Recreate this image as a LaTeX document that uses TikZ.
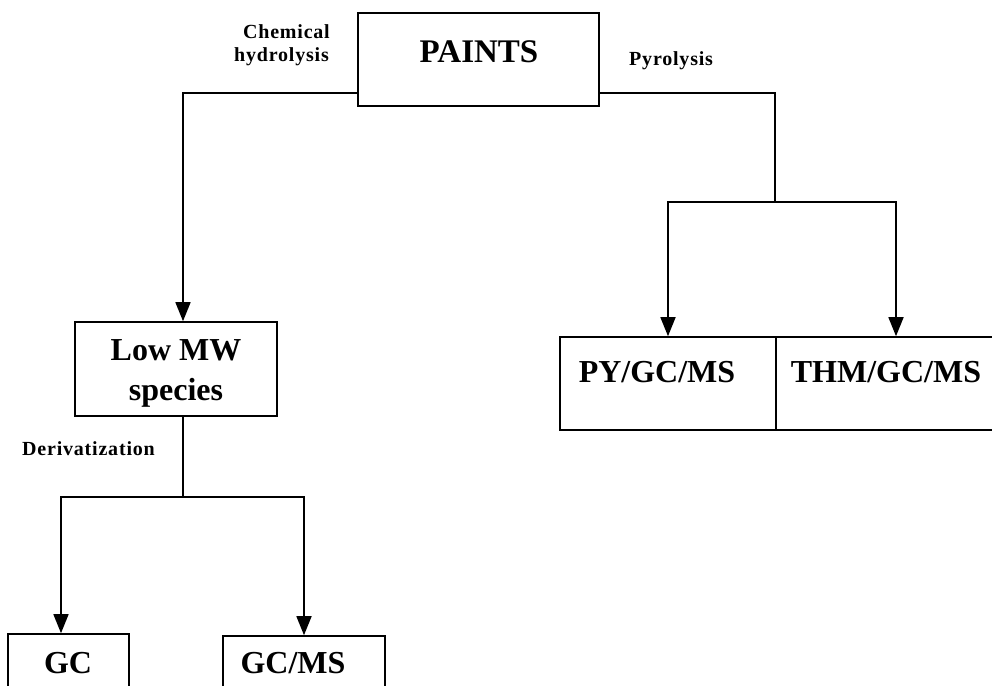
\documentclass[tikz,border=0pt]{standalone}
\usepackage{fontspec}
\setmainfont{Liberation Serif}
\newfontfamily\labfont[LetterSpace=4]{Liberation Serif}
\usetikzlibrary{arrows.meta}
\tikzset{
  boxnode/.style={draw, line width=1.6pt, rectangle, inner sep=0pt},
  bigtext/.style={font=\bfseries\fontsize{32}{40}\selectfont, anchor=base, inner sep=0pt},
  labtext/.style={font=\labfont\bfseries\fontsize{20}{22}\selectfont, inner sep=0pt},
  conn/.style={line width=1.6pt, line join=miter},
  arr/.style={conn, -{Triangle[length=19pt,width=15pt]}},
  arrboth/.style={conn, {Triangle[length=19pt,width=15pt]}-{Triangle[length=19pt,width=15pt]}}
}
\begin{document}
\begin{tikzpicture}[x=1pt, y=-1pt]
\useasboundingbox (0,0) rectangle (992,685);
\clip (0,0) rectangle (992,685);

% boxes
\node[boxnode, minimum width=241pt, minimum height=93pt] (paints) at (478.5,59.5) {};
\node[boxnode, minimum width=202pt, minimum height=94pt] (lowmw) at (176,369) {};
\node[boxnode, minimum width=216pt, minimum height=93pt] (py) at (668,383.5) {};
\node[boxnode, minimum width=234pt, minimum height=93pt] (thm) at (893,383.5) {};
\node[boxnode, minimum width=121pt, minimum height=90pt] (gc) at (68.5,679) {};
\node[boxnode, minimum width=162pt, minimum height=88pt] (gcms) at (304,680) {};

% box texts
\node[bigtext, font=\bfseries\fontsize{33}{40}\selectfont] (tpaints) at (479,63) {PAINTS};
\node[bigtext] (tlow1) at (176,360) {Low MW};
\node[bigtext] (tlow2) at (176,400) {species};
\node[bigtext] (tpy) at (657,382) {PY/GC/MS};
\node[bigtext] (tthm) at (886,382) {THM/GC/MS};
\node[bigtext] (tgc) at (68,673) {GC};
\node[bigtext] (tgcms) at (293,673) {GC/MS};

% labels
\node[labtext, anchor=base east] (lchem) at (330,39) {Chemical};
\node[labtext, anchor=base east] (lhyd) at (329,61) {hydrolysis};
\node[labtext, anchor=base west] (lpyr) at (629,65) {Pyrolysis};
\node[labtext, anchor=base west] (lder) at (22,455) {Derivatization};

% junction coordinates
\coordinate (jL) at (183,93);
\coordinate (jR) at (775,93);
\coordinate (sR) at (775,202);
\coordinate (aPY) at (668,202);
\coordinate (aTHM) at (896,202);
\coordinate (jD) at (183,497);
\coordinate (aGC) at (61,497);
\coordinate (aGCMS) at (304,497);

% connectors
\draw[arr] (paints.west |- jL) -- (jL) -- (jL |- lowmw.north);
\draw[conn] (paints.east |- jR) -- (jR) -- (sR);
\draw[arrboth] (aPY |- py.north) -- (aPY) -- (aTHM) -- (aTHM |- thm.north);
\draw[conn] (jD |- lowmw.south) -- (jD);
\draw[arrboth] (aGC |- gc.north) -- (aGC) -- (aGCMS) -- (aGCMS |- gcms.north);
\end{tikzpicture}
\end{document}
